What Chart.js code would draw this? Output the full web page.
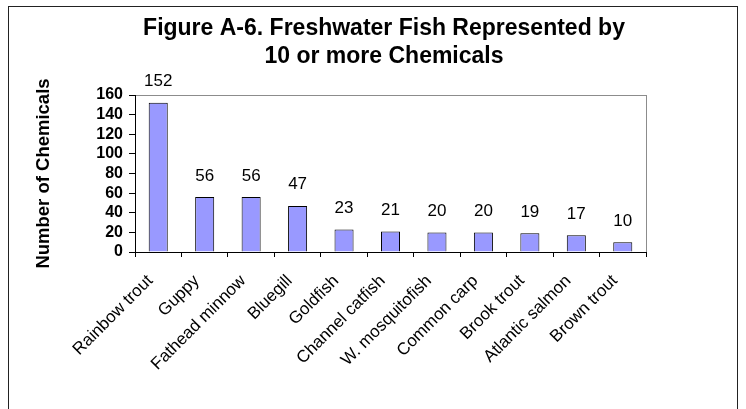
<!DOCTYPE html>
<html>
<head>
<meta charset="utf-8">
<script src="https://cdn.jsdelivr.net/npm/chart.js@4"></script>
<style>
  html, body { margin: 0; padding: 0; background: #fff; }
  #wrap { position: relative; width: 746px; height: 409px; }
  #frame { position: absolute; left: 8px; top: 6px; width: 728px; height: 410px;
           border: 1px solid #222; border-bottom: none; pointer-events: none; }
</style>
</head>
<body>
<div id="wrap">
  <canvas id="fish-chart"></canvas>
  <div id="frame"></div>
</div>
<script>
// 数据
const fishNames = ['Rainbow trout', 'Guppy', 'Fathead minnow', 'Bluegill', 'Goldfish',
  'Channel catfish', 'W. mosquitofish', 'Common carp', 'Brook trout', 'Atlantic salmon', 'Brown trout'];
const chemicalCounts = [152, 56, 56, 47, 23, 21, 20, 20, 19, 17, 10];
const titleLines = ['Figure A-6. Freshwater Fish Represented by', '10 or more Chemicals'];
const yAxisTitle = 'Number of Chemicals';
const yMin = 0;
const yMax = 160;
const yStep = 20;

Chart.defaults.font.family = '"Liberation Sans", Arial, Helvetica, sans-serif';
Chart.defaults.color = '#000';

// 标题（画在图表上方）
const titlePlugin = {
  id: 'figTitle',
  afterDraw(chart) {
    const ctx = chart.ctx;
    ctx.save();
    ctx.font = 'bold 23px "Liberation Sans", Arial, sans-serif';
    ctx.fillStyle = '#000';
    ctx.textAlign = 'center';
    ctx.textBaseline = 'alphabetic';
    ctx.fillText(titleLines[0], 384, 35);
    ctx.fillText(titleLines[1], 384, 63);
    ctx.restore();
  }
};

// 绘图区灰色边框
const plotBorder = {
  id: 'plotBorder',
  beforeDraw(chart) {
    const a = chart.chartArea;
    const ctx = chart.ctx;
    ctx.save();
    ctx.strokeStyle = '#8c8c8c';
    ctx.lineWidth = 1;
    ctx.strokeRect(a.left + 0.5, a.top + 0.5, a.right - a.left, a.bottom - a.top);
    ctx.restore();
  }
};

// 柱顶数值
const valueLabels = {
  id: 'valueLabels',
  afterDatasetsDraw(chart) {
    const ctx = chart.ctx;
    const meta = chart.getDatasetMeta(0);
    ctx.save();
    ctx.font = '17px "Liberation Sans", Arial, sans-serif';
    ctx.fillStyle = '#000';
    ctx.textAlign = 'center';
    ctx.textBaseline = 'alphabetic';
    meta.data.forEach((bar, i) => {
      ctx.fillText(String(chemicalCounts[i]), bar.x, bar.y - 16.5);
    });
    ctx.restore();
  }
};

new Chart(document.getElementById('fish-chart').getContext('2d'), {
  type: 'bar',
  data: {
    labels: fishNames,
    datasets: [{
      data: chemicalCounts,
      backgroundColor: '#9999ff',
      borderColor: '#000',
      borderWidth: 1,
      barPercentage: 0.41,
      categoryPercentage: 1
    }]
  },
  options: {
    responsive: true,
    maintainAspectRatio: false,
    animation: false,
    layout: {
      padding: { left: 33, right: 100, top: 95, bottom: 0 }
    },
    plugins: {
      legend: { display: false },
      title: { display: false },
      tooltip: { enabled: false }
    },
    scales: {
      x: {
        grid: {
          display: true,
          offset: true,
          drawOnChartArea: false,
          drawTicks: true,
          tickLength: 5,
          color: '#000'
        },
        border: { display: true, color: '#000', width: 1 },
        ticks: {
          autoSkip: false,
          minRotation: 45,
          maxRotation: 45,
          padding: 14,
          labelOffset: -8,
          font: { size: 17 }
        },
        afterFit(scale) { scale.height = 157; }
      },
      y: {
        min: yMin,
        max: yMax,
        grid: {
          drawOnChartArea: false,
          drawTicks: true,
          tickLength: 6,
          color: '#000'
        },
        border: { display: true, color: '#000', width: 1 },
        ticks: {
          stepSize: yStep,
          autoSkip: false,
          padding: 6,
          font: { size: 16, weight: 'bold' }
        },
        title: {
          display: true,
          text: yAxisTitle,
          font: { size: 18.5, weight: 'bold' },
          padding: 0
        },
        afterFit(scale) { scale.width = 102; }
      }
    }
  },
  plugins: [plotBorder, valueLabels, titlePlugin]
});
</script>
</body>
</html>
